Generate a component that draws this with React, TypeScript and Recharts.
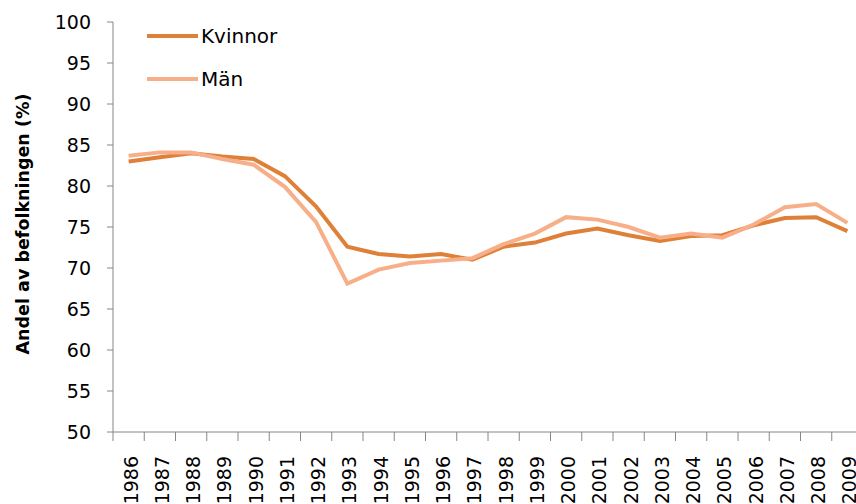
import { LineChart, Line, XAxis, YAxis } from 'recharts'

const years = ['1986', '1987', '1988', '1989', '1990', '1991', '1992', '1993', '1994', '1995', '1996', '1997',
  '1998', '1999', '2000', '2001', '2002', '2003', '2004', '2005', '2006', '2007', '2008', '2009']
const kvinnor = [83.0, 83.5, 84.0, 83.6, 83.3, 81.2, 77.5, 72.6, 71.7, 71.4, 71.7, 71.0,
  72.6, 73.1, 74.2, 74.8, 74.0, 73.3, 73.9, 74.0, 75.2, 76.1, 76.2, 74.5]
const man = [83.7, 84.1, 84.1, 83.3, 82.6, 79.9, 75.6, 68.1, 69.8, 70.6, 70.9, 71.2,
  72.9, 74.2, 76.2, 75.9, 75.0, 73.7, 74.2, 73.7, 75.3, 77.4, 77.8, 75.5]
const yTicks = [50, 55, 60, 65, 70, 75, 80, 85, 90, 95, 100]

const seriesNames = { kvinnor: 'Kvinnor', man: 'Män' }
const colors = { kvinnor: '#de8038', man: '#f6af88' }

const data = years.map((year, i) => ({ year, kvinnor: kvinnor[i], man: man[i] }))

const FONT = '"DejaVu Sans", sans-serif'
const AXIS = '#868686'
const CHART_W = 875
const PLOT_LEFT = 113
const PLOT_RIGHT = 12
const BAND = (CHART_W - PLOT_LEFT - PLOT_RIGHT) / years.length

function XTick({ x, y, payload }: any) {
  const half = BAND / 2
  const tx = x + 9
  const ty = y + 24
  return (
    <g>
      <line x1={x - half} x2={x - half} y1={y} y2={y + 9} stroke={AXIS} />
      <text x={tx} y={ty} transform={`rotate(-90 ${tx} ${ty})`} textAnchor="end"
        fontFamily={FONT} fontSize={19} fill="#000">
        {payload.value}
      </text>
    </g>
  )
}

function YLabel({ viewBox }: any) {
  const cx = 29
  const cy = viewBox.y + viewBox.height / 2 - 3
  return (
    <text x={cx} y={cy} transform={`rotate(-90 ${cx} ${cy})`} textAnchor="middle"
      fontFamily={FONT} fontSize={17.5} fontWeight="bold" fill="#000">
      Andel av befolkningen (%)
    </text>
  )
}

function LegendBox() {
  const rows: Array<[string, string]> = [
    [seriesNames.kvinnor, colors.kvinnor],
    [seriesNames.man, colors.man],
  ]
  return (
    <div style={{ position: 'absolute', left: 147, top: 22, fontFamily: FONT, fontSize: 20, color: '#000' }}>
      {rows.map(([name, color]) => (
        <div key={name} style={{ display: 'flex', alignItems: 'center', height: 28, marginBottom: 15 }}>
          <div style={{ width: 51, height: 4, background: color, marginRight: 3 }} />
          <span>{name}</span>
        </div>
      ))}
    </div>
  )
}

export default function App() {
  return (
    <div style={{ position: 'absolute', left: 0, top: 0, width: 856, height: 504, overflow: 'hidden', background: '#fff' }}>
      <LineChart width={CHART_W} height={504} data={data}
        margin={{ top: 22, right: PLOT_RIGHT, bottom: 0, left: 0 }}>
        <XAxis dataKey="year" scale="band" interval={0} height={72} tickSize={0} tickMargin={0}
          tickLine={false} axisLine={{ stroke: AXIS }} tick={<XTick />} />
        <YAxis width={PLOT_LEFT} domain={[50, 100]} ticks={yTicks} interval={0}
          axisLine={{ stroke: AXIS }} tickLine={{ stroke: AXIS }} tickSize={6} tickMargin={16}
          tick={{ fontFamily: FONT, fontSize: 19, fill: '#000' }}
          label={{ content: <YLabel /> }} />
        <Line type="linear" dataKey="kvinnor" name={seriesNames.kvinnor} stroke={colors.kvinnor}
          strokeWidth={4} dot={false} isAnimationActive={false} />
        <Line type="linear" dataKey="man" name={seriesNames.man} stroke={colors.man}
          strokeWidth={4} dot={false} isAnimationActive={false} />
      </LineChart>
      <LegendBox />
    </div>
  )
}
